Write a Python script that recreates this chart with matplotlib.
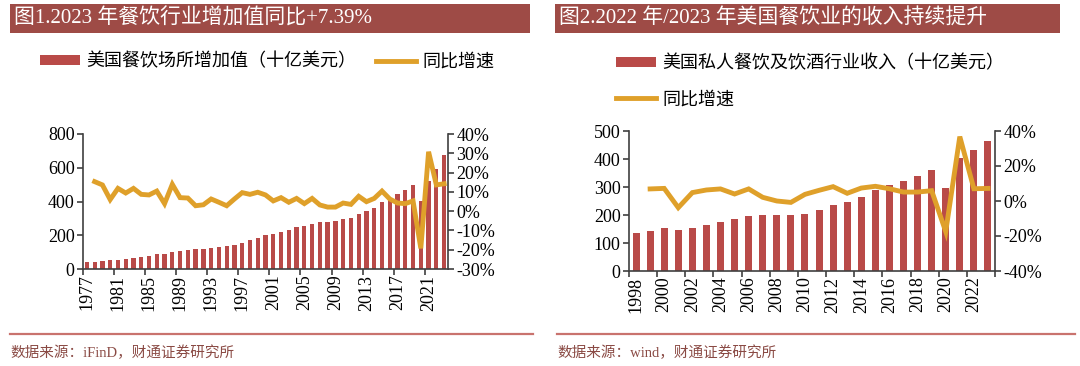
import numpy as np
import matplotlib
matplotlib.use("Agg")
import matplotlib.pyplot as plt
from matplotlib.patches import Rectangle
from matplotlib.lines import Line2D

plt.rcParams['font.family'] = ['Liberation Serif', 'Noto Sans CJK SC']
plt.rcParams['axes.unicode_minus'] = False

# chart 1: US food service value added (billion USD) and yoy growth
years1 = list(range(1977, 2024))
value_added = [40, 44, 49, 51, 56, 61, 66, 73, 78, 86,
               90, 99, 104, 112, 116, 119, 127, 131, 135, 143,
               156, 170, 184, 200, 210, 222, 232, 246, 257, 269,
               276, 280, 285, 295, 305, 325, 342, 364, 400, 412,
               445, 467, 495, 402, 523, 594, 673]
growth1 = [np.nan, 15.3, 13.6, 6.0, 11.8, 9.4, 11.8, 8.7, 8.4, 10.4,
           3.9, 13.9, 7.0, 6.8, 2.8, 3.3, 6.3, 4.6, 2.8, 6.3,
           9.6, 8.7, 9.8, 8.4, 5.3, 7.0, 4.6, 6.6, 3.9, 6.6,
           3.2, 2.1, 2.1, 4.2, 3.5, 7.7, 4.9, 6.6, 10.4, 6.3,
           4.2, 3.9, 5.3, -19.3, 30.8, 13.6, 14.2]

# chart 2: US private food & drinking places revenue (billion USD) and yoy growth
years2 = list(range(1998, 2024))
revenue = [134, 143, 153, 148, 155, 165, 176, 184, 195, 200,
           200, 199, 205, 218, 235, 246, 264, 288, 306, 322,
           339, 359, 296, 402, 432, 464]
growth2 = [np.nan, 6.9, 7.2, -3.8, 4.8, 6.3, 6.9, 4.0, 6.9, 2.1,
           0.0, -0.8, 3.8, 6.1, 8.2, 4.4, 7.4, 8.4, 7.0, 5.1,
           5.1, 5.9, -17.5, 36.8, 7.0, 7.2]

title1 = "图1.2023 年餐饮行业增加值同比+7.39%"
title2 = "图2.2022 年/2023 年美国餐饮业的收入持续提升"
bar_label1 = "美国餐饮场所增加值（十亿美元）"
bar_label2 = "美国私人餐饮及饮酒行业收入（十亿美元）"
line_label = "同比增速"
source1 = "数据来源：iFinD，财通证券研究所"
source2 = "数据来源：wind，财通证券研究所"

BAR_C = '#B94A48'
LINE_C = '#DFA02A'
HEAD_C = '#9E4B46'
SPINE_C = '#404040'
TICK_FS = 13

W, H = 1080, 366
fig = plt.figure(figsize=(W / 100, H / 100), dpi=100)


def fx(px):
    return px / W


def fy(py):
    return 1 - py / H


def draw_panel(rect, years, bars, growth, ylim, yticks, rlim, rticks, step, bar_w):
    ax = fig.add_axes(rect)
    x = np.arange(len(years))
    b = ax.bar(x, bars, width=bar_w, color=BAR_C, zorder=2)
    ax.set_xlim(-0.5, len(years) - 0.5)
    ax.set_ylim(*ylim)
    ax.set_yticks(yticks)
    ax.set_yticklabels([str(v) for v in yticks], fontsize=TICK_FS)
    # ticks at category borders, labels centred on bars
    ax.set_xticks(np.arange(-0.5, len(years), step))
    ax.set_xticklabels([])
    ax.set_xticks(x[::step], minor=True)
    ax.set_xticklabels([str(years[i]) for i in x[::step]], minor=True,
                       rotation=90, fontsize=TICK_FS)
    ax.tick_params(axis='x', which='major', length=4, width=1.2, color=SPINE_C)
    ax.tick_params(axis='x', which='minor', length=0, pad=4)
    ax.tick_params(axis='y', length=4, width=1.2, color=SPINE_C, pad=2)
    for s in ['top', 'right']:
        ax.spines[s].set_visible(False)
    for s in ['left', 'bottom']:
        ax.spines[s].set_color(SPINE_C)
        ax.spines[s].set_linewidth(1.2)

    ax2 = ax.twinx()
    ln, = ax2.plot(x, growth, color=LINE_C, lw=3.5, solid_joinstyle='miter', zorder=3)
    ax2.set_ylim(*rlim)
    ax2.set_yticks(rticks)
    ax2.set_yticklabels([f"{v}%" for v in rticks], fontsize=TICK_FS)
    ax2.tick_params(axis='y', length=4, width=1.2, color=SPINE_C, pad=2)
    for s in ['top', 'left', 'bottom']:
        ax2.spines[s].set_visible(False)
    ax2.spines['right'].set_color(SPINE_C)
    ax2.spines['right'].set_linewidth(1.2)
    return b, ln


b1, l1 = draw_panel([fx(83), fy(269), fx(448) - fx(83), fy(134) - fy(269)],
                    years1, value_added, growth1,
                    (0, 800), [0, 200, 400, 600, 800],
                    (-30, 40), [-30, -20, -10, 0, 10, 20, 30, 40], 4, 0.55)
b2, l2 = draw_panel([fx(629), fy(271), fx(995) - fx(629), fy(131) - fy(271)],
                    years2, revenue, growth2,
                    (0, 500), [0, 100, 200, 300, 400, 500],
                    (-40, 40), [-40, -20, 0, 20, 40], 2, 0.5)

# header bars
for x0, x1, t in [(10, 530, title1), (555, 1060, title2)]:
    fig.add_artist(Rectangle((fx(x0), fy(33)), fx(x1) - fx(x0), fy(4) - fy(33),
                             transform=fig.transFigure, color=HEAD_C, lw=0))
    fig.text(fx(x0 + 4), fy(18.5), t, color='white', fontsize=15,
             va='center', ha='left')

# legends
fig.legend([b1, l1], [bar_label1, line_label], loc='center left',
           bbox_to_anchor=(fx(40), fy(62)), ncol=2, frameon=False,
           fontsize=13, handlelength=2.2, handleheight=0.5, handletextpad=0.35,
           columnspacing=1.1, borderpad=0, borderaxespad=0)
fig.legend([b2, l2], [bar_label2, line_label], loc='center left',
           bbox_to_anchor=(fx(616), fy(81.5)), ncol=1, frameon=False,
           fontsize=13, handlelength=2.2, handleheight=0.5, handletextpad=0.35,
           labelspacing=1.05, borderpad=0, borderaxespad=0)

# source lines
for x0, x1, t in [(10, 533, source1), (557, 1075, source2)]:
    fig.add_artist(Line2D([fx(x0), fx(x1)], [fy(334), fy(334)],
                          transform=fig.transFigure, color='#C9736E', lw=1.6))
    fig.text(fx(x0), fy(353), t, color='#8A4A44', fontsize=10.5,
             va='center', ha='left')

fig.savefig('out.png', dpi=100)
